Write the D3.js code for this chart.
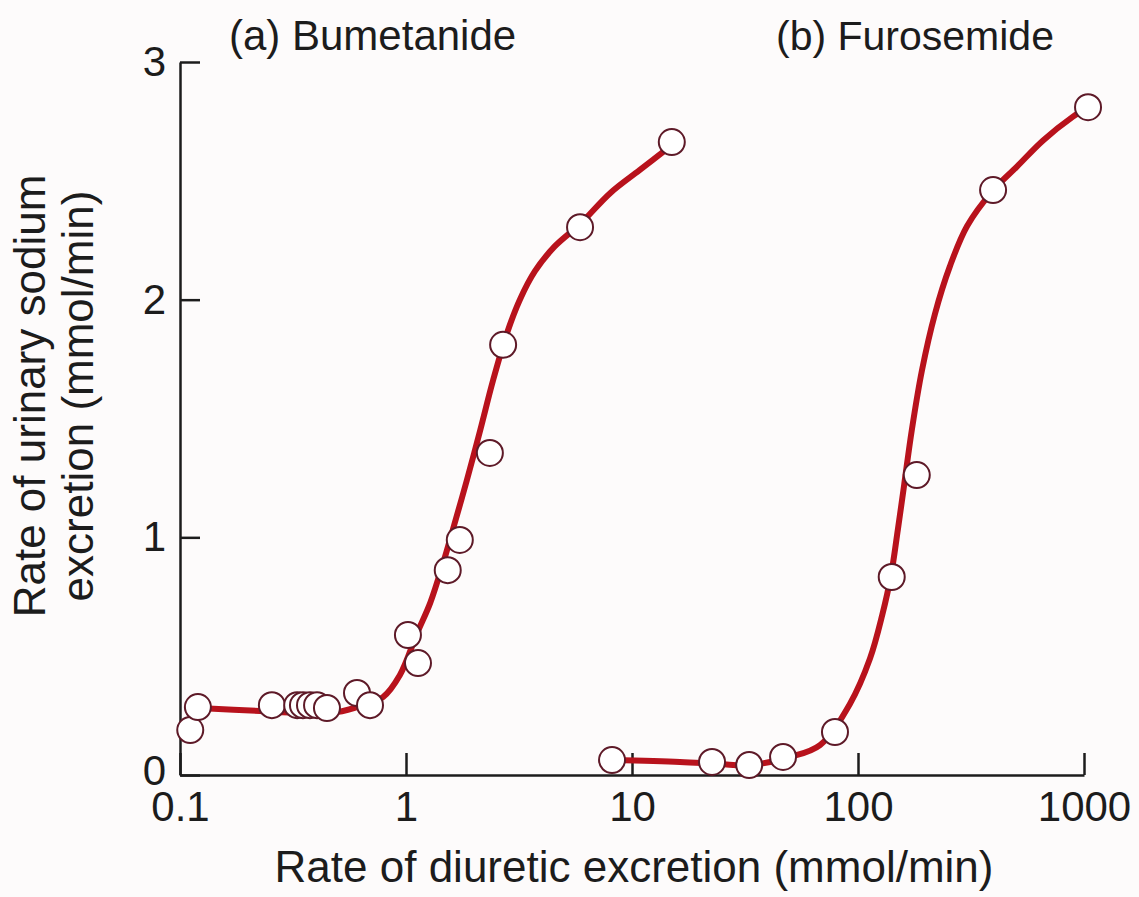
<!DOCTYPE html>
<html>
<head>
<meta charset="utf-8">
<script src="https://cdn.jsdelivr.net/npm/d3@7"></script>
<style>
  body { margin: 0; background: #fff; }
  svg { display: block; font-family: "Liberation Sans", Arial, sans-serif; }
  .axis path, .axis line { stroke: #1c1c1c; stroke-width: 2.5; }
  .axis text { font-size: 42px; fill: #1c1c1c; font-family: "Liberation Sans", Arial, sans-serif; }
</style>
</head>
<body>
<div id="chart"></div>
<script>
(function () {

  // tick values + labels
  const xTicks = [0.1, 1, 10, 100, 1000]
  const xTickLabels = ['0.1', '1', '10', '100', '1000']
  const yTicks = [0, 1, 2, 3]

  // (a) bumetanide measured points
  const bumetanideX = [0.111, 0.120, 0.255, 0.330, 0.350, 0.376, 0.404, 0.447, 0.607, 0.693, 1.02, 1.13, 1.53, 1.73, 2.35, 2.69, 5.89, 15.0]
  const bumetanideY = [0.189, 0.286, 0.294, 0.294, 0.294, 0.294, 0.294, 0.282, 0.345, 0.294, 0.589, 0.471, 0.862, 0.989, 1.355, 1.81, 2.305, 2.663]

  // (a) fitted curve
  const bumetanideCurveX = [0.121, 0.226, 0.340, 0.495, 0.645, 0.791, 0.94, 1.12, 1.28, 1.46, 1.61, 1.86, 2.13, 2.43, 2.80, 3.19, 3.72, 4.56, 5.89, 8.0, 10.8, 15.0]
  const bumetanideCurveY = [0.282, 0.269, 0.261, 0.265, 0.294, 0.328, 0.421, 0.597, 0.724, 0.892, 1.031, 1.241, 1.451, 1.662, 1.860, 2.000, 2.120, 2.225, 2.318, 2.448, 2.545, 2.650]

  // (b) furosemide measured points
  const furosemideX = [8.16, 22.6, 33.0, 46.6, 79.1, 141, 182, 396, 1042]
  const furosemideY = [0.063, 0.055, 0.042, 0.076, 0.181, 0.833, 1.262, 2.461, 2.810]

  // (b) fitted curve
  const furosemideCurveX = [8.2, 16.3, 24.5, 33.3, 50, 67.9, 92.2, 113, 128, 140, 150, 160, 173, 192, 219, 255, 304, 396, 505, 659, 894, 1042]
  const furosemideCurveY = [0.063, 0.055, 0.046, 0.042, 0.076, 0.126, 0.300, 0.490, 0.673, 0.841, 1.031, 1.220, 1.451, 1.704, 1.940, 2.140, 2.31, 2.46, 2.56, 2.67, 2.77, 2.81]

  const width = 1139
  const height = 897

  const svg = d3.select('#chart').append('svg')
    .attr('width', width)
    .attr('height', height)

  svg.append('rect')
    .attr('width', width)
    .attr('height', height)
    .attr('fill', '#fdfbfb')

  const xPositionScale = d3.scaleLog()
    .domain([0.1, 1000])
    .range([180, 1084])

  const yPositionScale = d3.scaleLinear()
    .domain([0, 3])
    .range([775, 62])

  const line = d3.line()
    .x(d => xPositionScale(d[0]))
    .y(d => yPositionScale(d[1]))
    .curve(d3.curveCatmullRom.alpha(0.5))

  const curves = [
    d3.zip(bumetanideCurveX, bumetanideCurveY),
    d3.zip(furosemideCurveX, furosemideCurveY)
  ]

  const points = d3.zip(bumetanideX, bumetanideY)
    .concat(d3.zip(furosemideX, furosemideY))

  // axes first so the curves sit on top
  const yAxis = d3.axisLeft(yPositionScale)
    .tickValues(yTicks)
    .tickSize(-20)
    .tickSizeOuter(0)
    .tickPadding(14)
    .tickFormat(d3.format('d'))
  svg.append('g')
    .attr('class', 'axis y-axis')
    .attr('transform', 'translate(180,0)')
    .call(yAxis)

  // nudge the 0 up a touch so it clears 0.1
  svg.select('.y-axis').selectAll('.tick text')
    .filter(d => d === 0)
    .attr('dy', '0.22em')

  const xAxis = d3.axisBottom(xPositionScale)
    .tickValues(xTicks)
    .tickSize(-22)
    .tickSizeOuter(0)
    .tickPadding(16)
    .tickFormat((d, i) => xTickLabels[i])
  svg.append('g')
    .attr('class', 'axis x-axis')
    .attr('transform', 'translate(0,775)')
    .call(xAxis)

  svg.selectAll('.curve')
    .data(curves)
    .join('path')
    .attr('class', 'curve')
    .attr('d', line)
    .attr('fill', 'none')
    .attr('stroke', '#b8121c')
    .attr('stroke-width', 6)
    .attr('stroke-linecap', 'round')

  svg.selectAll('circle')
    .data(points)
    .join('circle')
    .attr('r', 13)
    .attr('cx', d => xPositionScale(d[0]))
    .attr('cy', d => yPositionScale(d[1]))
    .attr('fill', '#fff')
    .attr('stroke', '#5e1a28')
    .attr('stroke-width', 2)

  // panel titles
  svg.append('text')
    .text('(a) Bumetanide')
    .attr('x', 229)
    .attr('y', 50)
    .attr('font-size', 42)
    .attr('fill', '#1c1c1c')

  svg.append('text')
    .text('(b) Furosemide')
    .attr('x', 776)
    .attr('y', 50)
    .attr('font-size', 41)
    .attr('fill', '#1c1c1c')

  // axis titles
  svg.append('text')
    .text('Rate of diuretic excretion (mmol/min)')
    .attr('x', 634)
    .attr('y', 882)
    .attr('text-anchor', 'middle')
    .attr('font-size', 44)
    .attr('fill', '#1c1c1c')

  const yTitle = svg.append('text')
    .attr('transform', 'translate(45,396) rotate(-90)')
    .attr('text-anchor', 'middle')
    .attr('font-size', 44)
    .attr('fill', '#1c1c1c')
  yTitle.append('tspan')
    .attr('x', 0)
    .attr('y', 0)
    .text('Rate of urinary sodium')
  yTitle.append('tspan')
    .attr('x', 0)
    .attr('y', 48)
    .text('excretion (mmol/min)')

})();
</script>
</body>
</html>
